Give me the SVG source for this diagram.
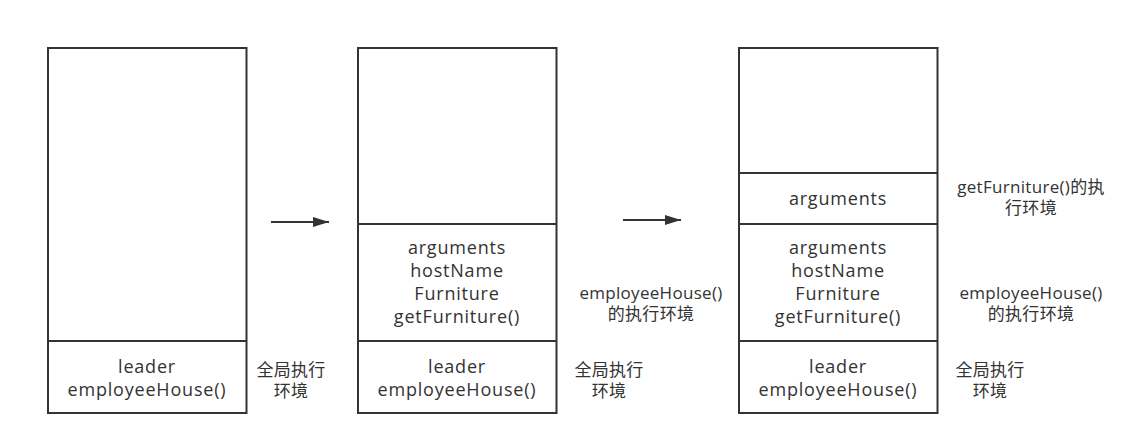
<svg xmlns="http://www.w3.org/2000/svg" width="1141" height="446" viewBox="0 0 1141 446">
<defs>
<style>
.box{fill:#fff;stroke:#333;stroke-width:2}
.div{stroke:#333;stroke-width:2;fill:none}
.t{font-family:"Open Sans","Noto Sans CJK SC",sans-serif;font-size:18px;letter-spacing:0.8px;fill:#333;text-anchor:middle}
.l{font-family:"Open Sans","Noto Sans CJK SC",sans-serif;font-size:17px;letter-spacing:0.3px;fill:#333;text-anchor:middle}
.c{stroke:#333;stroke-width:2;fill:none}
</style>
<marker id="ah" viewBox="0 0 16 10" refX="16" refY="5" markerWidth="16" markerHeight="10" markerUnits="userSpaceOnUse" orient="auto">
<path d="M0,0 L16,5 L0,10 Z" fill="#333"/>
</marker>
</defs>
<rect width="1141" height="446" fill="#fff"/>
<g id="stack1">
<rect class="box" x="48" y="48" width="198.5" height="365"/>
<line class="div" x1="48" y1="341" x2="246.5" y2="341"/>
<text class="t" x="147" y="373">leader</text>
<text class="t" x="147" y="396">employeeHouse()</text>
</g>
<g id="stack2">
<rect class="box" x="358" y="48" width="198.5" height="365"/>
<line class="div" x1="358" y1="224" x2="556.5" y2="224"/>
<line class="div" x1="358" y1="341" x2="556.5" y2="341"/>
<text class="t" x="457" y="254">arguments</text>
<text class="t" x="457" y="277">hostName</text>
<text class="t" x="457" y="300">Furniture</text>
<text class="t" x="457" y="323">getFurniture()</text>
<text class="t" x="457" y="373">leader</text>
<text class="t" x="457" y="396">employeeHouse()</text>
</g>
<g id="stack3">
<rect class="box" x="739" y="48" width="198.5" height="365"/>
<line class="div" x1="739" y1="173" x2="937.5" y2="173"/>
<line class="div" x1="739" y1="224" x2="937.5" y2="224"/>
<line class="div" x1="739" y1="341" x2="937.5" y2="341"/>
<text class="t" x="838" y="205">arguments</text>
<text class="t" x="838" y="254">arguments</text>
<text class="t" x="838" y="277">hostName</text>
<text class="t" x="838" y="300">Furniture</text>
<text class="t" x="838" y="323">getFurniture()</text>
<text class="t" x="838" y="373">leader</text>
<text class="t" x="838" y="396">employeeHouse()</text>
</g>
<g id="labels">
<text class="l" x="291" y="376">全局执行</text>
<text class="l" x="291" y="397">环境</text>
<text class="l" x="609" y="376">全局执行</text>
<text class="l" x="609" y="397">环境</text>
<text class="l" x="990" y="376">全局执行</text>
<text class="l" x="990" y="397">环境</text>
<text class="l" x="651" y="299">employeeHouse()</text>
<text class="l" x="651" y="320">的执行环境</text>
<text class="l" x="1031" y="299">employeeHouse()</text>
<text class="l" x="1031" y="320">的执行环境</text>
<text class="l" x="1031" y="193">getFurniture()的执</text>
<text class="l" x="1031" y="214">行环境</text>
</g>
<g id="connectors">
<line class="c" x1="271" y1="222" x2="329" y2="222" marker-end="url(#ah)"/>
<line class="c" x1="623" y1="220" x2="681" y2="220" marker-end="url(#ah)"/>
</g>
</svg>
